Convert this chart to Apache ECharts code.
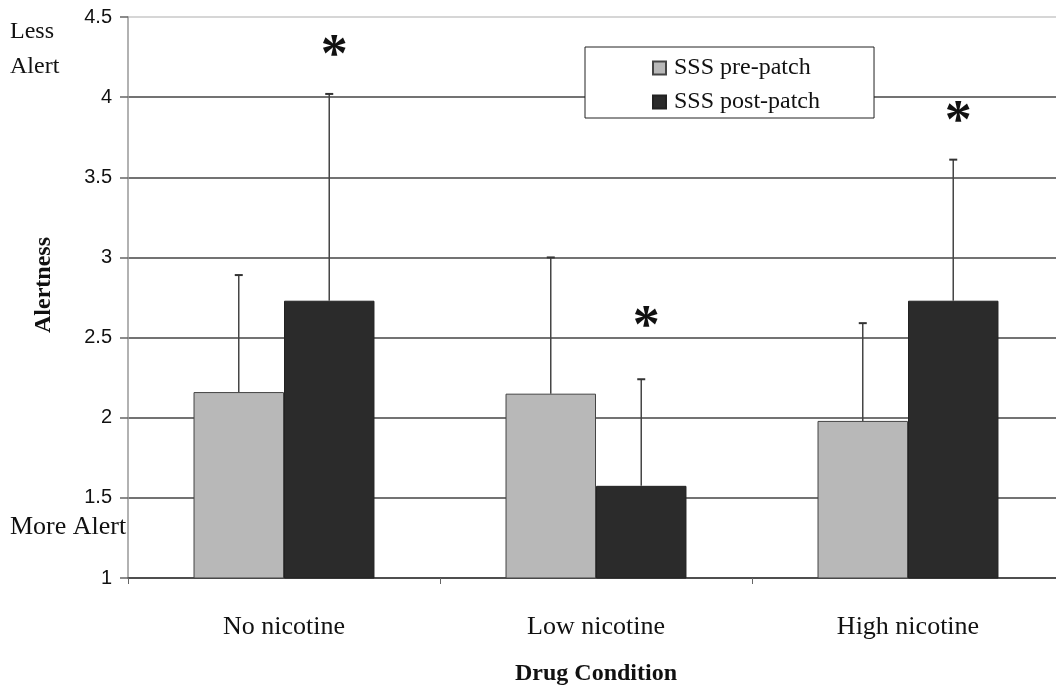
<!DOCTYPE html>
<html>
<head>
<meta charset="utf-8">
<script src="https://cdn.jsdelivr.net/npm/echarts@6/dist/echarts.min.js"></script>
<style>
html,body{margin:0;padding:0;background:#fff;}
#chart{width:1056px;height:690px;}
</style>
</head>
<body>
<div id="chart"></div>
<script>
// ---- data ----
const categories = ['No nicotine', 'Low nicotine', 'High nicotine'];
const seriesNames = ['SSS pre-patch', 'SSS post-patch'];
const prePatch = [2.16, 2.15, 1.98];
const postPatch = [2.73, 1.575, 2.73];
const preErrTop = [2.89, 3.00, 2.59];
const postErrTop = [4.02, 2.24, 3.61];
const asteriskAt = [4.33, 2.64, 3.92];   // y value of the "*" above each post-patch bar
const yMin = 1, yMax = 4.5, yStep = 0.5;
const yTopLabel = ['Less', 'Alert'];
const yBottomLabel = 'More Alert';
const yName = 'Alertness';
const xName = 'Drug Condition';

// ---- build ----
const SERIF = '"Liberation Serif", "Times New Roman", serif';
const SANS = '"Liberation Sans", Arial, sans-serif';
const BAR_FRAC = 0.29;

const errData = [];
categories.forEach((c, i) => {
  errData.push([i, preErrTop[i], prePatch[i], -1]);
  errData.push([i, postErrTop[i], postPatch[i], 1]);
});
const starData = categories.map((c, i) => [i, asteriskAt[i]]);

const nLines = Math.round((yMax - yMin) / yStep) + 1;
const splitColors = [];
for (let k = 0; k < nLines; k++) splitColors.push(k === nLines - 1 ? '#c8c8c8' : '#444');

const chart = echarts.init(document.getElementById('chart'), null, {renderer: 'canvas'});
chart.setOption({
  backgroundColor: '#fff',
  animation: false,
  grid: {left: 128, top: 17, width: 936, bottom: 112, containLabel: false, outerBoundsMode: 'none'},
  legend: {
    data: seriesNames,
    orient: 'vertical',
    left: 585, top: 47,
    padding: [9, 54, 4, 67],
    itemGap: 10,
    itemWidth: 13, itemHeight: 13,
    icon: 'rect',
    backgroundColor: '#fff',
    borderColor: '#222', borderWidth: 1, borderRadius: 0,
    textStyle: {fontFamily: SERIF, fontSize: 24, color: '#111', padding: [0, 0, 0, 3]}
  },
  xAxis: {
    type: 'category',
    data: categories,
    name: xName,
    nameLocation: 'middle',
    nameGap: 84,
    nameTextStyle: {fontFamily: SERIF, fontSize: 24, fontWeight: 'bold', color: '#111'},
    axisLine: {lineStyle: {color: '#444', width: 1.5}},
    axisTick: {show: true, length: 6, interval: 0, lineStyle: {color: '#666'}},
    axisLabel: {fontFamily: SERIF, fontSize: 26, color: '#111', margin: 36, interval: 0},
    splitLine: {show: false}
  },
  yAxis: {
    type: 'value',
    min: yMin, max: yMax, interval: yStep,
    axisLine: {show: true, lineStyle: {color: '#999', width: 1.5}},
    axisTick: {show: true, length: 8, lineStyle: {color: '#666', width: 1.5}},
    axisLabel: {fontFamily: SANS, fontSize: 20, color: '#111', margin: 16},
    splitLine: {show: true, lineStyle: {color: splitColors, width: 1.6}}
  },
  graphic: [
    {type: 'text', left: 10, top: 14, style: {text: yTopLabel.join('\n'), fontFamily: SERIF, fontSize: 24, lineHeight: 35, fill: '#111'}},
    {type: 'text', left: 10, top: 514, style: {text: yBottomLabel, fontFamily: SERIF, fontSize: 26, fill: '#111'}},
    {type: 'text', x: 44, y: 285, rotation: Math.PI / 2,
     style: {text: yName, fontFamily: SERIF, fontSize: 24, fontWeight: 'bold', fill: '#111', align: 'center', verticalAlign: 'middle'}}
  ],
  series: [
    {
      name: seriesNames[0], type: 'bar', data: prePatch,
      barWidth: (BAR_FRAC * 100) + '%', barGap: '0%',
      itemStyle: {color: '#b8b8b8', borderColor: '#444', borderWidth: 1}
    },
    {
      name: seriesNames[1], type: 'bar', data: postPatch,
      barWidth: (BAR_FRAC * 100) + '%', barGap: '0%',
      itemStyle: {color: '#2b2b2b', borderColor: '#222', borderWidth: 1}
    },
    {
      name: 'err', type: 'custom', data: errData, z: 5,
      encode: {x: 0, y: 1},
      renderItem: function (params, api) {
        const ci = api.value(0), top = api.value(1), base = api.value(2), side = api.value(3);
        const p0 = api.coord([ci, base]);
        const p1 = api.coord([ci, top]);
        const bw = api.size([1, 0])[0] * BAR_FRAC;
        const x = p0[0] + side * bw / 2;
        const st = {stroke: '#444', lineWidth: 1.5};
        return {type: 'group', children: [
          {type: 'line', shape: {x1: x, y1: p0[1], x2: x, y2: p1[1]}, style: st},
          {type: 'line', shape: {x1: x - 4, y1: p1[1], x2: x + 4, y2: p1[1]}, style: {stroke: '#333', lineWidth: 2}}
        ]};
      }
    },
    {
      name: 'star', type: 'custom', data: starData, z: 6,
      encode: {x: 0, y: 1},
      renderItem: function (params, api) {
        const p = api.coord([api.value(0), api.value(1)]);
        const bw = api.size([1, 0])[0] * BAR_FRAC;
        return {type: 'text', x: p[0] + bw / 2 + 5, y: p[1] + 13,
          style: {text: '*', fontFamily: SERIF, fontSize: 54, fontWeight: 'bold', fill: '#111', align: 'center', verticalAlign: 'middle'}};
      }
    }
  ]
});
</script>
</body>
</html>
